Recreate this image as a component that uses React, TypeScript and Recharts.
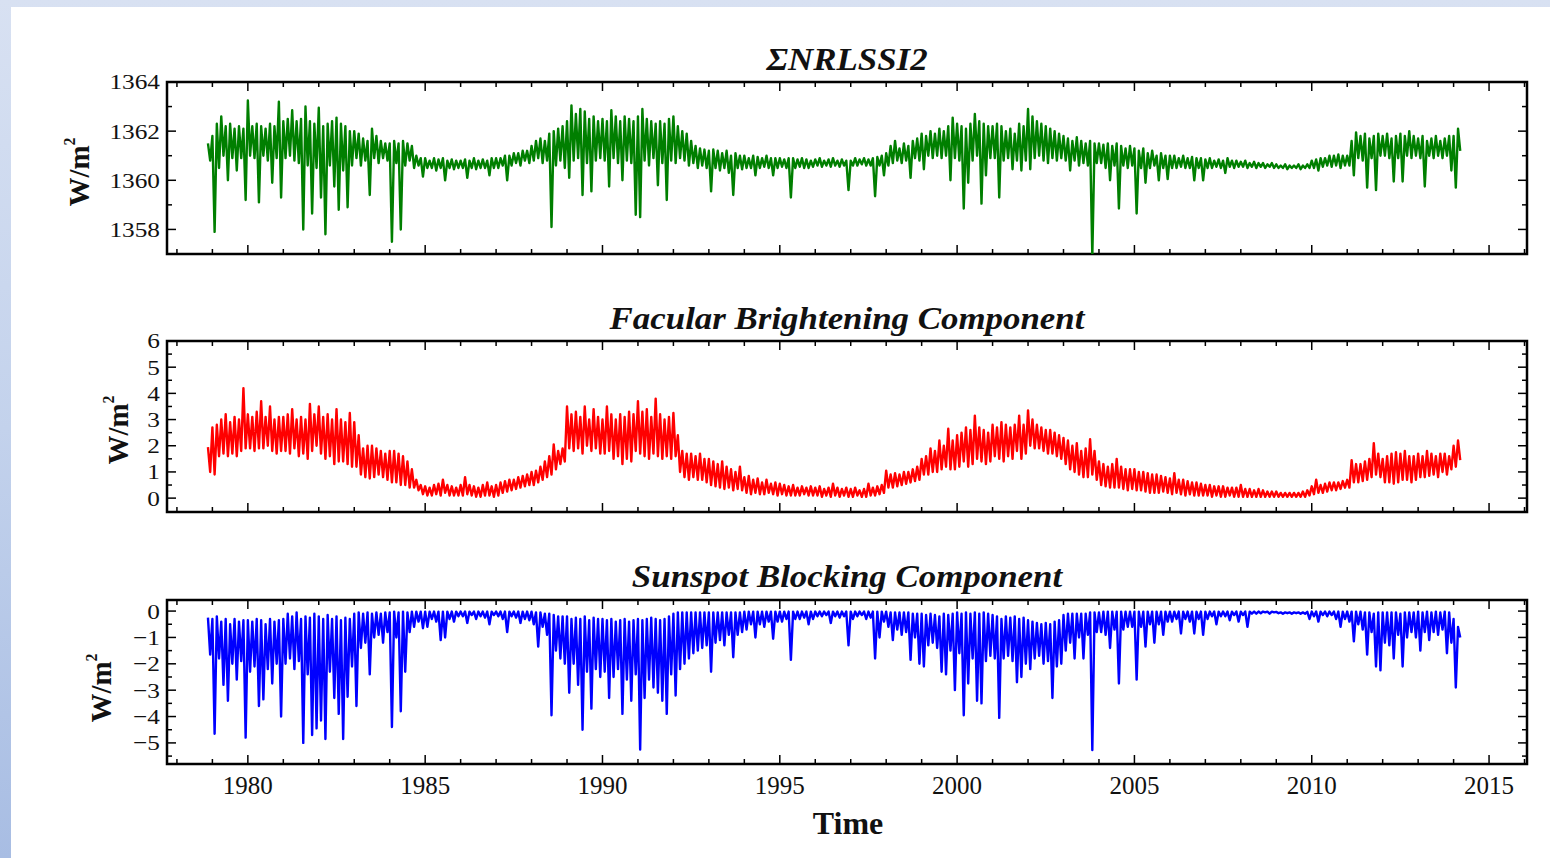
import React from "react";
import { LineChart, Line, XAxis, YAxis, ReferenceArea } from "recharts";

// each series read as upper / lower envelope per 1/8 year, first slot at 1978.875
const startYear = 1978.875;
const step = 0.125;

const tsiHigh = [
  1361.5,
  1361.8, 1362.3, 1362.6, 1362.2, 1362.3, 1362.1, 1362.2, 1362.1,
  1363.25, 1362.2, 1362.3, 1362.2, 1362.1, 1362.3, 1362.2, 1363.2,
  1362.4, 1362.5, 1362.85, 1362.4, 1362.5, 1363.0, 1362.4, 1362.3,
  1362.95, 1362.2, 1362.3, 1362.4, 1362.55, 1362.3, 1362.2, 1362.0,
  1362.0, 1361.9, 1361.7, 1361.6, 1362.1, 1361.8, 1361.6, 1361.5,
  1361.5, 1361.6, 1361.5, 1361.6, 1361.5, 1361.4, 1361.0, 1360.9,
  1360.9, 1360.8, 1360.9, 1360.85, 1360.9, 1360.8, 1360.85, 1360.8,
  1360.8, 1360.85, 1360.8, 1360.9, 1360.8, 1360.85, 1360.8, 1360.9,
  1360.9, 1360.9, 1361.0, 1361.0, 1361.1, 1361.1, 1361.2, 1361.2,
  1361.4, 1361.6, 1361.7, 1361.6, 1361.9, 1362.0, 1362.1, 1362.2,
  1362.4, 1363.05, 1362.7, 1362.9, 1362.8, 1362.5, 1362.6, 1362.4,
  1362.5, 1362.4, 1362.85, 1362.6, 1362.4, 1362.6, 1362.5, 1362.4,
  1362.6, 1362.9, 1362.5, 1362.4, 1362.3, 1362.4, 1362.3, 1362.5,
  1362.6, 1362.2, 1362.0, 1361.9, 1361.6, 1361.4, 1361.3, 1361.25,
  1361.2, 1361.25, 1361.2, 1361.1, 1361.2, 1361.0, 1361.1, 1361.0,
  1361.0, 1360.9, 1361.0, 1360.95, 1360.9, 1361.0, 1360.9, 1360.9,
  1360.9, 1360.85, 1360.9, 1360.9, 1360.85, 1360.9, 1360.85, 1360.8,
  1360.85, 1360.9, 1360.8, 1360.85, 1360.9, 1360.8, 1360.85, 1360.8,
  1360.8, 1360.9, 1360.85, 1360.9, 1360.85, 1360.9, 1360.95, 1361.0,
  1361.1, 1361.4, 1361.6, 1361.3, 1361.5, 1361.4, 1361.6, 1361.7,
  1361.9, 1361.8, 1362.0, 1361.9, 1362.1, 1362.0, 1362.2, 1362.55,
  1362.3, 1362.2, 1362.1, 1362.3, 1362.7, 1362.4, 1362.3, 1362.2,
  1362.2, 1362.3, 1362.2, 1362.0, 1362.1, 1361.9, 1362.3, 1362.2,
  1362.9, 1362.6, 1362.4, 1362.3, 1362.2, 1362.1, 1362.0, 1361.9,
  1361.8, 1361.7, 1361.6, 1361.75, 1361.6, 1361.5, 1361.6, 1361.5,
  1361.5, 1361.45, 1361.5, 1361.4, 1361.5, 1361.4, 1361.3, 1361.4,
  1361.3, 1361.2, 1361.3, 1361.1, 1361.2, 1361.0, 1361.1, 1361.0,
  1361.0, 1361.0, 1360.9, 1361.0, 1360.9, 1360.95, 1360.9, 1360.9,
  1360.85, 1360.9, 1360.8, 1360.85, 1360.8, 1360.9, 1360.8, 1360.8,
  1360.75, 1360.8, 1360.7, 1360.75, 1360.7, 1360.7, 1360.65, 1360.7,
  1360.65, 1360.6, 1360.65, 1360.6, 1360.6, 1360.65, 1360.6, 1360.65,
  1360.8, 1360.85, 1360.9, 1360.9, 1361.0, 1361.0, 1361.05, 1361.0,
  1361.0, 1361.6, 1361.95, 1361.8, 1361.9, 1361.7, 1361.8, 1361.9,
  1361.8, 1361.9, 1361.7, 1361.8, 1361.9, 1361.8, 1362.0, 1361.8,
  1361.7, 1361.8, 1361.6, 1361.7, 1361.8, 1361.6, 1361.7, 1361.8,
  1361.8, 1362.1,
];

const tsiLow = [
  1360.8,
  1357.9, 1360.5, 1361.0, 1360.0, 1360.9, 1360.4, 1360.9, 1359.2,
  1361.0, 1360.9, 1359.1, 1361.0, 1360.8, 1359.9, 1360.9, 1359.3,
  1360.9, 1361.0, 1360.8, 1360.7, 1358.0, 1360.6, 1358.65, 1360.5,
  1359.3, 1357.8, 1360.6, 1359.75, 1358.8, 1360.4, 1358.9, 1360.6,
  1360.9, 1360.6, 1360.8, 1359.4, 1360.9, 1360.7, 1360.9, 1360.8,
  1357.5, 1360.7, 1358.0, 1360.6, 1360.8, 1360.5, 1360.6, 1360.15,
  1360.5, 1360.5, 1360.4, 1360.5, 1360.0, 1360.5, 1360.45, 1360.5,
  1360.5, 1360.1, 1360.5, 1360.45, 1360.5, 1360.5, 1360.2, 1360.5,
  1360.5, 1360.6, 1360.0, 1360.6, 1360.7, 1360.6, 1360.8, 1360.7,
  1360.8, 1360.9, 1360.7, 1360.8, 1358.1, 1360.6, 1360.8, 1360.5,
  1360.1, 1360.8, 1360.9, 1359.4, 1360.7, 1359.55, 1360.8, 1360.9,
  1360.8, 1359.75, 1360.9, 1360.7, 1360.0, 1360.8, 1360.7, 1358.6,
  1358.5, 1360.8, 1360.6, 1360.9, 1359.8, 1360.7, 1359.2, 1360.8,
  1360.7, 1360.9, 1360.8, 1360.6, 1360.7, 1360.5, 1360.6, 1360.5,
  1359.55, 1360.5, 1360.4, 1360.5, 1360.3, 1359.4, 1360.5, 1360.45,
  1360.5, 1360.5, 1360.2, 1360.5, 1360.55, 1360.5, 1360.2, 1360.5,
  1360.55, 1360.5, 1359.3, 1360.5, 1360.55, 1360.5, 1360.5, 1360.55,
  1360.6, 1360.55, 1360.6, 1360.55, 1360.6, 1360.55, 1360.6, 1359.6,
  1360.6, 1360.6, 1360.65, 1360.6, 1360.6, 1359.35, 1360.6, 1360.2,
  1360.6, 1360.7, 1360.8, 1360.7, 1360.8, 1360.1, 1360.9, 1360.8,
  1360.45, 1361.0, 1360.9, 1361.0, 1360.9, 1361.0, 1360.0, 1360.9,
  1360.8, 1358.85, 1359.9, 1360.8, 1361.0, 1359.05, 1360.2, 1360.9,
  1360.9, 1359.3, 1360.8, 1360.9, 1360.45, 1360.8, 1360.4, 1360.8,
  1360.45, 1360.9, 1361.0, 1360.8, 1360.7, 1360.9, 1360.8, 1360.9,
  1360.8, 1360.4, 1360.8, 1360.6, 1360.7, 1360.6, 1356.9, 1360.7,
  1360.7, 1360.5, 1360.0, 1360.6, 1358.85, 1360.6, 1360.5, 1360.6,
  1358.65, 1360.5, 1359.9, 1360.5, 1360.6, 1360.0, 1360.5, 1360.05,
  1360.5, 1360.5, 1360.55, 1360.5, 1360.5, 1360.0, 1360.5, 1360.0,
  1360.5, 1360.5, 1360.55, 1360.5, 1360.3, 1360.55, 1360.5, 1360.55,
  1360.55, 1360.5, 1360.55, 1360.5, 1360.55, 1360.5, 1360.55, 1360.5,
  1360.5, 1360.5, 1360.45, 1360.5, 1360.5, 1360.45, 1360.5, 1360.5,
  1360.5, 1360.4, 1360.55, 1360.6, 1360.55, 1360.6, 1360.5, 1360.6,
  1360.6, 1360.2, 1360.9, 1360.8, 1359.7, 1360.9, 1359.6, 1361.0,
  1361.0, 1360.9, 1359.95, 1360.9, 1359.95, 1361.0, 1360.9, 1361.0,
  1360.9, 1359.75, 1361.0, 1360.9, 1361.0, 1360.9, 1361.0, 1360.4,
  1359.7, 1361.2,
];

const facularHigh = [
  1.95,
  2.7, 2.8, 3.0, 3.2, 2.9, 3.1, 3.0, 4.2,
  3.2, 3.1, 3.3, 3.7, 3.1, 3.5, 3.0, 3.1,
  3.1, 3.2, 3.4, 3.0, 3.1, 3.0, 3.6, 3.2,
  3.5, 3.1, 3.2, 3.0, 3.4, 3.0, 2.9, 3.25,
  2.9, 2.4, 1.9, 2.0, 2.0, 1.9, 1.8, 1.7,
  1.8, 1.8, 1.7, 1.6, 1.4, 1.1, 0.7, 0.5,
  0.45, 0.4, 0.5, 0.55, 0.7, 0.5, 0.45, 0.4,
  0.5, 0.8, 0.5, 0.45, 0.4, 0.5, 0.6, 0.45,
  0.5, 0.6, 0.65, 0.7, 0.7, 0.8, 0.85, 0.9,
  1.0, 1.05, 1.2, 1.4, 1.6, 2.05, 1.8, 1.9,
  3.5, 3.2, 3.3, 3.1, 3.5, 3.0, 3.4, 3.1,
  3.0, 3.5, 3.2, 3.0, 3.2, 3.1, 3.3, 3.2,
  3.7, 3.3, 3.4, 3.1, 3.8, 3.2, 3.0, 3.1,
  3.25, 2.4, 1.8, 1.7, 1.7, 1.6, 1.7, 1.5,
  1.5, 1.4, 1.3, 1.4, 1.2, 1.1, 1.0, 1.2,
  0.8, 0.85, 0.7, 0.75, 0.6, 0.7, 0.55, 0.6,
  0.55, 0.5, 0.45, 0.5, 0.4, 0.45, 0.4, 0.45,
  0.4, 0.45, 0.35, 0.4, 0.55, 0.4, 0.35, 0.4,
  0.35, 0.4, 0.3, 0.35, 0.55, 0.4, 0.45, 0.5,
  1.05, 0.9, 0.95, 0.9, 1.0, 1.0, 1.1, 1.2,
  1.5, 1.6, 1.9, 1.8, 2.2, 2.0, 2.65, 2.2,
  2.4, 2.5, 2.7, 2.6, 3.15, 2.7, 2.6, 2.5,
  2.8, 2.7, 2.9, 2.8, 2.7, 2.8, 3.15, 2.8,
  3.35, 3.0, 2.8, 2.7, 2.6, 2.6, 2.5, 2.4,
  2.3, 2.2, 2.0, 2.1, 1.8, 1.9, 2.25, 1.8,
  1.4, 1.3, 1.2, 1.3, 1.5, 1.2, 1.1, 1.1,
  1.1, 1.0, 1.0, 0.95, 0.9, 0.9, 0.85, 0.8,
  0.75, 0.95, 0.7, 0.7, 0.65, 0.6, 0.6, 0.55,
  0.5, 0.5, 0.45, 0.45, 0.45, 0.4, 0.4, 0.4,
  0.5, 0.35, 0.35, 0.3, 0.35, 0.3, 0.25, 0.25,
  0.25, 0.2, 0.2, 0.2, 0.2, 0.2, 0.25, 0.3,
  0.45, 0.7, 0.5, 0.55, 0.6, 0.6, 0.6, 0.65,
  0.7, 1.45, 1.3, 1.3, 1.4, 1.5, 2.1, 1.7,
  1.5, 1.6, 1.7, 1.75, 1.7, 1.8, 1.6, 1.6,
  1.7, 1.6, 1.8, 1.7, 1.6, 1.7, 1.7, 1.6,
  2.0, 2.2,
];

const facularLow = [
  1.0,
  0.9, 1.6, 1.7, 1.6, 1.7, 1.6, 1.8, 1.9,
  1.9, 1.8, 1.9, 1.9, 2.0, 1.8, 1.7, 1.8,
  1.8, 1.7, 1.9, 1.6, 1.7, 1.5, 1.8, 2.0,
  1.7, 1.5, 1.6, 1.3, 1.4, 1.4, 1.3, 1.2,
  1.2, 0.9, 0.8, 0.75, 0.8, 0.9, 0.8, 0.7,
  0.6, 0.6, 0.5, 0.5, 0.4, 0.4, 0.3, 0.15,
  0.1, 0.1, 0.15, 0.1, 0.2, 0.1, 0.1, 0.1,
  0.1, 0.15, 0.1, 0.05, 0.05, 0.1, 0.1, 0.05,
  0.1, 0.2, 0.25, 0.3, 0.35, 0.4, 0.45, 0.5,
  0.5, 0.6, 0.7, 0.8, 0.9, 1.1, 1.3, 1.4,
  1.9, 1.8, 1.9, 1.7, 2.0, 1.8, 1.9, 1.7,
  1.7, 1.8, 1.5, 1.6, 1.3, 1.5, 1.4, 1.8,
  1.7, 1.6, 1.5, 1.7, 1.6, 1.5, 1.6, 1.5,
  1.6, 1.0, 0.8, 0.7, 0.8, 0.7, 0.7, 0.6,
  0.5, 0.45, 0.4, 0.35, 0.4, 0.3, 0.35, 0.3,
  0.2, 0.15, 0.2, 0.15, 0.15, 0.2, 0.15, 0.1,
  0.15, 0.1, 0.1, 0.1, 0.1, 0.15, 0.1, 0.1,
  0.1, 0.05, 0.1, 0.05, 0.1, 0.05, 0.1, 0.05,
  0.05, 0.1, 0.05, 0.05, 0.1, 0.1, 0.15, 0.2,
  0.4, 0.4, 0.45, 0.5, 0.55, 0.6, 0.65, 0.7,
  0.9, 0.9, 1.0, 1.0, 1.1, 1.2, 1.1, 1.1,
  1.2, 1.4, 1.2, 1.3, 1.5, 1.4, 1.3, 1.4,
  1.6, 1.5, 1.4, 1.6, 1.5, 1.8, 1.5, 1.7,
  2.0, 1.9, 1.9, 1.8, 1.7, 1.7, 1.6, 1.5,
  1.3, 1.1, 1.0, 0.9, 0.8, 0.8, 0.9, 0.7,
  0.5, 0.45, 0.4, 0.4, 0.4, 0.35, 0.3, 0.35,
  0.3, 0.3, 0.25, 0.2, 0.2, 0.2, 0.25, 0.2,
  0.15, 0.2, 0.15, 0.1, 0.15, 0.1, 0.1, 0.1,
  0.1, 0.05, 0.1, 0.05, 0.05, 0.1, 0.05, 0.05,
  0.05, 0.05, 0.05, 0.05, 0.05, 0.05, 0.05, 0.05,
  0.05, 0.05, 0.05, 0.05, 0.05, 0.05, 0.05, 0.1,
  0.15, 0.2, 0.2, 0.25, 0.3, 0.3, 0.35, 0.4,
  0.4, 0.6, 0.6, 0.65, 0.7, 0.8, 0.9, 0.8,
  0.6, 0.6, 0.55, 0.6, 0.7, 0.7, 0.6, 0.7,
  0.8, 0.8, 0.85, 0.9, 0.8, 1.0, 0.9, 1.1,
  1.2, 1.45,
];

const sunspotHigh = [
  -0.25,
  -0.3, -0.2, -0.4, -0.3, -0.5, -0.3, -0.4, -0.35,
  -0.35, -0.4, -0.3, -0.35, -0.5, -0.3, -0.4, -0.35,
  -0.3, -0.1, -0.2, -0.05, -0.3, -0.2, -0.25, -0.1,
  -0.2, -0.3, -0.15, -0.3, -0.2, -0.35, -0.25, -0.3,
  -0.1, -0.05, -0.1, -0.05, -0.1, -0.05, -0.1, -0.05,
  -0.05, -0.02, -0.05, -0.02, -0.05, -0.02, -0.02, -0.02,
  -0.02, -0.02, -0.02, -0.02, -0.02, -0.02, -0.02, -0.02,
  -0.02, -0.02, -0.02, -0.02, -0.02, -0.02, -0.02, -0.02,
  -0.02, -0.02, -0.02, -0.02, -0.02, -0.02, -0.02, -0.02,
  -0.02, -0.05, -0.05, -0.1, -0.1, -0.15, -0.2, -0.2,
  -0.2, -0.3, -0.25, -0.3, -0.2, -0.35, -0.25, -0.3,
  -0.3, -0.35, -0.3, -0.4, -0.35, -0.3, -0.4, -0.35,
  -0.3, -0.35, -0.3, -0.25, -0.3, -0.35, -0.3, -0.2,
  -0.1, -0.05, -0.05, -0.05, -0.05, -0.05, -0.05, -0.05,
  -0.05, -0.05, -0.05, -0.05, -0.05, -0.05, -0.05, -0.05,
  -0.02, -0.02, -0.02, -0.02, -0.02, -0.02, -0.02, -0.02,
  -0.02, -0.02, -0.02, -0.02, -0.02, -0.02, -0.02, -0.02,
  -0.02, -0.02, -0.02, -0.02, -0.02, -0.02, -0.02, -0.02,
  -0.02, -0.02, -0.02, -0.02, -0.02, -0.02, -0.02, -0.02,
  -0.02, -0.05, -0.05, -0.05, -0.05, -0.05, -0.1, -0.1,
  -0.1, -0.15, -0.1, -0.15, -0.2, -0.1, -0.15, -0.1,
  -0.05, -0.1, -0.05, -0.1, -0.05, -0.1, -0.05, -0.1,
  -0.15, -0.2, -0.3, -0.2, -0.25, -0.2, -0.3, -0.25,
  -0.35, -0.4, -0.45, -0.5, -0.45, -0.5, -0.4, -0.35,
  -0.15, -0.1, -0.1, -0.1, -0.1, -0.1, -0.05, -0.05,
  -0.05, -0.02, -0.02, -0.02, -0.02, -0.02, -0.02, -0.02,
  -0.02, -0.02, -0.02, -0.02, -0.02, -0.02, -0.02, -0.02,
  -0.02, -0.02, -0.02, -0.02, -0.02, -0.02, -0.02, -0.02,
  -0.02, -0.02, -0.02, -0.02, -0.02, -0.02, -0.02, -0.02,
  -0.02, -0.02, -0.02, -0.02, -0.02, -0.02, -0.02, -0.02,
  -0.03, -0.05, -0.05, -0.05, -0.05, -0.05, -0.05, -0.03,
  -0.02, -0.02, -0.02, -0.02, -0.02, -0.02, -0.02, -0.02,
  -0.02, -0.02, -0.02, -0.02, -0.05, -0.05, -0.1, -0.05,
  -0.05, -0.05, -0.05, -0.05, -0.1, -0.05, -0.05, -0.05,
  -0.02, -0.05, -0.02, -0.05, -0.02, -0.05, -0.02, -0.05,
  -0.3, -0.6,
];

const sunspotLow = [
  -1.65,
  -4.65, -1.8, -2.8, -3.4, -2.0, -2.6, -1.9, -4.8,
  -2.3, -2.1, -3.6, -3.35, -2.2, -2.75, -2.0, -4.0,
  -2.0, -1.8, -2.2, -1.9, -5.0, -2.4, -4.7, -4.45,
  -4.15, -4.85, -2.3, -3.3, -3.9, -4.85, -3.25, -2.1,
  -3.6, -1.4, -1.2, -2.4, -1.0, -0.9, -1.2, -0.8,
  -4.4, -1.0, -3.8, -2.3, -0.8, -0.6, -0.4, -0.65,
  -0.6, -0.3, -0.4, -1.1, -1.0, -0.3, -0.4, -0.2,
  -0.2, -0.45, -0.15, -0.3, -0.2, -0.25, -0.5, -0.15,
  -0.2, -0.3, -0.8, -0.2, -0.25, -0.45, -0.3, -0.35,
  -0.5, -1.35, -0.6, -0.9, -3.95, -1.5, -1.8, -2.0,
  -3.1, -2.0, -2.8, -4.5, -2.3, -3.7, -2.2, -2.5,
  -2.3, -3.3, -2.5, -2.2, -3.9, -2.6, -3.4, -2.4,
  -5.25, -3.3, -2.6, -2.9, -3.1, -3.4, -3.9, -2.4,
  -3.2, -2.2, -2.0, -1.8, -1.6, -1.5, -1.4, -1.3,
  -2.3, -1.2, -1.1, -1.3, -0.9, -1.75, -0.9, -0.8,
  -0.7, -0.5, -1.0, -0.5, -0.6, -0.4, -1.05, -0.4,
  -0.4, -0.3, -1.85, -0.3, -0.3, -0.25, -0.5, -0.3,
  -0.2, -0.2, -0.15, -0.45, -0.2, -0.25, -0.2, -1.3,
  -0.3, -0.2, -0.15, -0.3, -0.25, -1.8, -1.0, -0.4,
  -0.6, -1.1, -0.7, -0.9, -0.8, -1.85, -1.0, -2.0,
  -2.1, -1.3, -1.2, -1.4, -2.3, -2.4, -1.5, -3.0,
  -1.6, -3.95, -2.75, -1.8, -3.4, -3.5, -1.9, -1.7,
  -1.8, -4.05, -1.8, -1.7, -1.9, -2.7, -2.5, -2.0,
  -2.2, -1.8, -1.7, -2.0, -1.9, -3.3, -2.1, -2.0,
  -1.5, -1.2, -1.8, -1.0, -1.8, -0.9, -5.27, -0.8,
  -0.8, -0.9, -1.4, -0.7, -2.75, -0.7, -0.6, -0.6,
  -2.6, -0.6, -1.35, -0.5, -1.2, -0.5, -0.9, -0.4,
  -0.4, -0.3, -0.85, -0.3, -0.4, -0.85, -0.3, -0.9,
  -0.3, -0.2, -0.5, -0.2, -0.2, -0.35, -0.15, -0.4,
  -0.15, -0.6, -0.1, -0.1, -0.08, -0.05, -0.1, -0.05,
  -0.08, -0.1, -0.08, -0.1, -0.08, -0.1, -0.1, -0.3,
  -0.2, -0.4, -0.15, -0.2, -0.15, -0.3, -0.6, -0.3,
  -0.4, -1.15, -0.5, -0.7, -1.65, -0.8, -2.1, -2.25,
  -1.2, -1.3, -1.8, -0.9, -2.1, -1.0, -0.8, -1.0,
  -1.5, -0.8, -1.1, -0.8, -0.9, -0.7, -1.6, -1.2,
  -2.9, -1.0,
];

const yearTicks = [
  1978, 1979, 1980, 1981, 1982, 1983, 1984, 1985, 1986, 1987, 1988, 1989, 1990,
  1991, 1992, 1993, 1994, 1995, 1996, 1997, 1998, 1999, 2000, 2001, 2002, 2003,
  2004, 2005, 2006, 2007, 2008, 2009, 2010, 2011, 2012, 2013, 2014, 2015, 2016,
];
const yearLabels = [1980, 1985, 1990, 1995, 2000, 2005, 2010, 2015];

const tsiTicks = [1358, 1359, 1360, 1361, 1362, 1363, 1364];
const tsiLabels = [1358, 1360, 1362, 1364];
const facTicks = [0, 0.5, 1, 1.5, 2, 2.5, 3, 3.5, 4, 4.5, 5, 5.5, 6];
const facLabels = [0, 1, 2, 3, 4, 5, 6];
const sunTicks = [-5.5, -5, -4.5, -4, -3.5, -3, -2.5, -2, -1.5, -1, -0.5, 0];
const sunLabels = [-5, -4, -3, -2, -1, 0];

const X_DOMAIN: [number, number] = [1977.72, 2016.07];
const PLOT_LEFT = 167;
const PLOT_RIGHT = 1527;
const FONT = '"Liberation Serif", "DejaVu Serif", "Times New Roman", serif';

// upper and lower reading of each slot, the lower one half a slot later
function toSeries(high: number[], low: number[]) {
  const rows: { t: number; v: number }[] = [];
  const n = Math.min(high.length, low.length);
  for (let i = 0; i < n; i++) {
    const t = startYear + i * step;
    rows.push({ t, v: high[i] });
    rows.push({ t: t + step / 2, v: low[i] });
  }
  return rows;
}

const fmt = (v: number) => (v < 0 ? "\u2212" + Math.abs(v) : String(v));

function XTick(props: any) {
  const { x, payload, pTop, pBottom, showLabel } = props;
  const v = payload.value;
  const major = yearLabels.includes(v);
  const len = major ? 9 : 5;
  return (
    <g>
      <line x1={x} x2={x} y1={pBottom} y2={pBottom - len} stroke="#000" strokeWidth={1.5} />
      <line x1={x} x2={x} y1={pTop} y2={pTop + len} stroke="#000" strokeWidth={1.5} />
      {major && showLabel && (
        <text x={x} y={pBottom + 30} textAnchor="middle" fontFamily={FONT} fontSize={25} fill="#111">
          {v}
        </text>
      )}
    </g>
  );
}

function YTick(props: any) {
  const { y, payload, labels } = props;
  const v = payload.value;
  const major = labels.includes(v);
  const len = major ? 9 : 5;
  return (
    <g>
      <line x1={PLOT_LEFT} x2={PLOT_LEFT + len} y1={y} y2={y} stroke="#000" strokeWidth={1.5} />
      <line x1={PLOT_RIGHT} x2={PLOT_RIGHT - len} y1={y} y2={y} stroke="#000" strokeWidth={1.5} />
      {major && (
        <text
          transform={`translate(${PLOT_LEFT - 7},${y}) scale(1.15,1)`}
          dy="0.34em"
          textAnchor="end"
          fontFamily={FONT}
          fontSize={22}
          fill="#111"
        >
          {fmt(v)}
        </text>
      )}
    </g>
  );
}

interface PanelProps {
  top: number;
  height: number;
  plotTop: number;
  plotBottom: number;
  high: number[];
  low: number[];
  color: string;
  yDomain: [number, number];
  yTicks: number[];
  yLabels: number[];
  showXLabels?: boolean;
}

function Panel({ top, height, plotTop, plotBottom, high, low, color, yDomain, yTicks, yLabels, showXLabels }: PanelProps) {
  const xAxisHeight = showXLabels ? 40 : 10;
  const pTop = plotTop - top;
  const pBottom = plotBottom - top;
  return (
    <div style={{ position: "absolute", left: 0, top }}>
      <LineChart
        width={1550}
        height={height}
        data={toSeries(high, low)}
        margin={{ top: pTop, right: 1550 - PLOT_RIGHT, left: PLOT_LEFT - 60, bottom: height - pBottom - xAxisHeight }}
      >
        <XAxis
          dataKey="t"
          type="number"
          domain={X_DOMAIN}
          ticks={yearTicks}
          interval={0}
          allowDataOverflow
          axisLine={false}
          tickLine={false}
          height={xAxisHeight}
          tick={<XTick pTop={pTop} pBottom={pBottom} showLabel={!!showXLabels} />}
        />
        <YAxis
          type="number"
          domain={yDomain}
          ticks={yTicks}
          interval={0}
          allowDataOverflow
          axisLine={false}
          tickLine={false}
          width={60}
          tick={<YTick labels={yLabels} />}
        />
        <Line
          type="linear"
          dataKey="v"
          stroke={color}
          strokeWidth={2.4}
          strokeLinejoin="round"
          dot={false}
          isAnimationActive={false}
        />
        <ReferenceArea
          x1={X_DOMAIN[0]}
          x2={X_DOMAIN[1]}
          y1={yDomain[0]}
          y2={yDomain[1]}
          fill="none"
          stroke="#000"
          strokeWidth={2.5}
        />
      </LineChart>
    </div>
  );
}

const titleStyle = (cy: number): React.CSSProperties => ({
  position: "absolute",
  left: 847,
  top: cy,
  transform: "translate(-50%, -50%) scale(1.09, 1)",
  fontFamily: FONT,
  fontWeight: "bold",
  fontStyle: "italic",
  fontSize: 32,
  lineHeight: 1,
  whiteSpace: "nowrap",
  color: "#111",
});

const unitStyle = (cx: number, cy: number): React.CSSProperties => ({
  position: "absolute",
  left: cx,
  top: cy,
  transform: "translate(-50%, -50%) rotate(-90deg)",
  fontFamily: FONT,
  fontWeight: "bold",
  fontSize: 29,
  lineHeight: 1,
  whiteSpace: "nowrap",
  color: "#111",
});

function Unit({ cx, cy }: { cx: number; cy: number }) {
  return (
    <div style={unitStyle(cx, cy)}>
      W/m<span style={{ fontSize: 16, verticalAlign: 14 }}>2</span>
    </div>
  );
}

export default function App() {
  return (
    <div
      style={{
        position: "absolute",
        left: 0,
        top: 0,
        width: 1550,
        height: 858,
        overflow: "hidden",
        background: "linear-gradient(to bottom, #d8e1f2 0%, #c3d2ec 50%, #a8bde3 100%)",
      }}
    >
      <div style={{ position: "absolute", left: 11, top: 7, right: 0, bottom: 0, background: "#fff" }}>
        <div style={{ position: "absolute", left: -11, top: -7, width: 1550, height: 858 }}>
          <Panel
            top={40}
            height={240}
            plotTop={82}
            plotBottom={254}
            high={tsiHigh}
            low={tsiLow}
            color="#007f00"
            yDomain={[1357, 1364]}
            yTicks={tsiTicks}
            yLabels={tsiLabels}
          />
          <Panel
            top={300}
            height={240}
            plotTop={341}
            plotBottom={512}
            high={facularHigh}
            low={facularLow}
            color="#ff0000"
            yDomain={[-0.53, 6]}
            yTicks={facTicks}
            yLabels={facLabels}
          />
          <Panel
            top={560}
            height={290}
            plotTop={600}
            plotBottom={764}
            high={sunspotHigh}
            low={sunspotLow}
            color="#0000ff"
            yDomain={[-5.8, 0.42]}
            yTicks={sunTicks}
            yLabels={sunLabels}
            showXLabels
          />
          <div style={titleStyle(59)}>ΣNRLSSI2</div>
          <div style={titleStyle(318)}>Facular Brightening Component</div>
          <div style={titleStyle(576)}>Sunspot Blocking Component</div>
          <div style={{ ...titleStyle(823), fontStyle: "normal", transform: "translate(-50%, -50%)", left: 848 }}>Time</div>
          <Unit cx={78} cy={172} />
          <Unit cx={117} cy={430} />
          <Unit cx={100} cy={688} />
        </div>
      </div>
    </div>
  );
}
